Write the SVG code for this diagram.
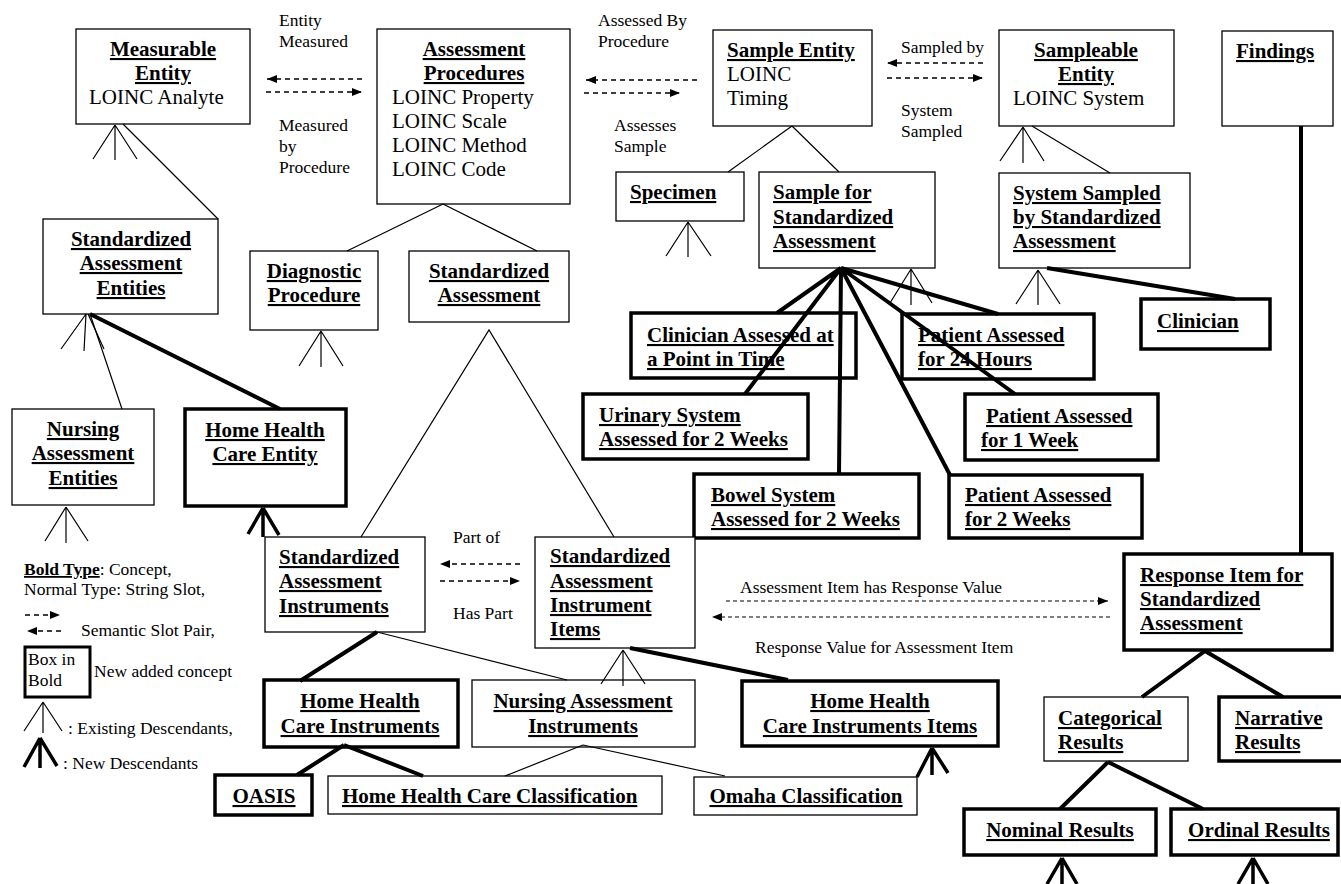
<svg xmlns="http://www.w3.org/2000/svg" width="1341" height="884" viewBox="0 0 1341 884">
<style>
text{font-family:"Liberation Serif","Times New Roman",serif;fill:#000}
.b{font-size:21px;font-weight:bold;text-decoration:underline}
.n{font-size:21px}
.l{font-size:17.5px}
.m{text-anchor:middle}
.box{fill:#fff;stroke:#000;stroke-width:1.3}
.bbox{fill:#fff;stroke:#000;stroke-width:3.5}
.thin{stroke:#000;stroke-width:1.2;fill:none}
.thick{stroke:#000;stroke-width:4;fill:none}
.dash{stroke:#000;stroke-width:1.3;stroke-dasharray:5,4;fill:none}
.fdash{stroke:#000;stroke-width:1.1;stroke-dasharray:4,3;fill:none}
</style>
<defs>
<marker id="ah" markerUnits="userSpaceOnUse" markerWidth="11" markerHeight="9" refX="10" refY="4" orient="auto">
<path d="M0,0 L10,4 L0,8 z" fill="#000"/>
</marker>
</defs>
<rect width="1341" height="884" fill="#fff"/>

<g id="nodes">
<g id="measurable"><rect class="box" x="76" y="29" width="174" height="95"/><text class="b m" x="163" y="56">Measurable</text><text class="b m" x="163" y="80">Entity</text><text class="n" x="89" y="104">LOINC Analyte</text></g>
<g id="assessProc"><rect class="box" x="377" y="29" width="193" height="175"/><text class="b m" x="474" y="56">Assessment</text><text class="b m" x="474" y="80">Procedures</text><text class="n" x="392" y="104">LOINC Property</text><text class="n" x="392" y="128">LOINC Scale</text><text class="n" x="392" y="152">LOINC Method</text><text class="n" x="392" y="176">LOINC Code</text></g>
<g id="sampleEntity"><rect class="box" x="713" y="30" width="159" height="96"/><text class="b" x="727" y="57">Sample Entity</text><text class="n" x="727" y="81">LOINC</text><text class="n" x="727" y="105">Timing</text></g>
<g id="sampleable"><rect class="box" x="999" y="30" width="175" height="96"/><text class="b m" x="1086" y="57">Sampleable</text><text class="b m" x="1086" y="81">Entity</text><text class="n" x="1013" y="105">LOINC System</text></g>
<g id="findings"><rect class="box" x="1222" y="31" width="111" height="95"/><text class="b" x="1236" y="58">Findings</text></g>
<g id="sae"><rect class="box" x="43" y="219" width="175" height="95"/><text class="b m" x="131" y="246">Standardized</text><text class="b m" x="131" y="270">Assessment</text><text class="b m" x="131" y="295">Entities</text></g>
<g id="diagnostic"><rect class="box" x="250" y="251" width="128" height="79"/><text class="b m" x="314" y="278">Diagnostic</text><text class="b m" x="314" y="302">Procedure</text></g>
<g id="stdAssess"><rect class="box" x="409" y="251" width="160" height="71"/><text class="b m" x="489" y="278">Standardized</text><text class="b m" x="489" y="302">Assessment</text></g>
<g id="specimen"><rect class="box" x="616" y="172" width="128" height="49"/><text class="b" x="630" y="199">Specimen</text></g>
<g id="sampleForSA"><rect class="box" x="759" y="172" width="176" height="96"/><text class="b" x="773" y="199">Sample for</text><text class="b" x="773" y="224">Standardized</text><text class="b" x="773" y="248">Assessment</text></g>
<g id="systemSampled"><rect class="box" x="999" y="173" width="191" height="95"/><text class="b" x="1013" y="200">System Sampled</text><text class="b" x="1013" y="224">by Standardized</text><text class="b" x="1013" y="248">Assessment</text></g>
<g id="nursingEnt"><rect class="box" x="12" y="409" width="142" height="96"/><text class="b m" x="83" y="436">Nursing</text><text class="b m" x="83" y="460">Assessment</text><text class="b m" x="83" y="485">Entities</text></g>
<g id="hhcEntity"><rect class="bbox" x="185" y="409" width="161" height="97"/><text class="b m" x="265" y="437">Home Health</text><text class="b m" x="265" y="461">Care Entity</text></g>
<g id="clinAssessed"><rect class="bbox" x="631" y="313" width="225" height="65"/><text class="b" x="647" y="342">Clinician Assessed at</text><text class="b" x="647" y="366">a Point in Time</text></g>
<g id="pat24"><rect class="bbox" x="902" y="314" width="192" height="65"/><text class="b" x="918" y="342">Patient Assessed</text><text class="b" x="918" y="366">for 24 Hours</text></g>
<g id="clinician"><rect class="bbox" x="1141" y="299" width="129" height="50"/><text class="b" x="1157" y="328">Clinician</text></g>
<g id="urinary"><rect class="bbox" x="583" y="394" width="225" height="65"/><text class="b" x="599" y="422">Urinary System</text><text class="b" x="599" y="446">Assessed for 2 Weeks</text></g>
<g id="pat1wk"><rect class="bbox" x="965" y="394" width="193" height="66"/><text class="b" x="986" y="423">Patient Assessed</text><text class="b" x="981" y="447">for 1 Week</text></g>
<g id="bowel"><rect class="bbox" x="694" y="474" width="225" height="64"/><text class="b" x="711" y="502">Bowel System</text><text class="b" x="711" y="526">Assessed for 2 Weeks</text></g>
<g id="pat2wk"><rect class="bbox" x="949" y="475" width="193" height="63"/><text class="b" x="965" y="502">Patient Assessed</text><text class="b" x="965" y="526">for 2 Weeks</text></g>
<g id="sai"><rect class="box" x="265" y="537" width="160" height="95"/><text class="b" x="279" y="564">Standardized</text><text class="b" x="279" y="588">Assessment</text><text class="b" x="279" y="613">Instruments</text></g>
<g id="saii"><rect class="box" x="535" y="537" width="160" height="111"/><text class="b" x="550" y="563">Standardized</text><text class="b" x="550" y="588">Assessment</text><text class="b" x="550" y="612">Instrument</text><text class="b" x="550" y="636">Items</text></g>
<g id="respItem"><rect class="bbox" x="1124" y="554" width="208" height="96"/><text class="b" x="1140" y="582">Response Item for</text><text class="b" x="1140" y="606">Standardized</text><text class="b" x="1140" y="630">Assessment</text></g>
<g id="hhci"><rect class="bbox" x="264" y="680" width="194" height="67"/><text class="b m" x="360" y="708">Home Health</text><text class="b m" x="360" y="733">Care Instruments</text></g>
<g id="nai"><rect class="box" x="472" y="680" width="223" height="67"/><text class="b m" x="583" y="708">Nursing Assessment</text><text class="b m" x="583" y="733">Instruments</text></g>
<g id="hhcii"><rect class="bbox" x="742" y="681" width="256" height="65"/><text class="b m" x="870" y="708">Home Health</text><text class="b m" x="870" y="733">Care Instruments Items</text></g>
<g id="categorical"><rect class="box" x="1044" y="697" width="144" height="64"/><text class="b" x="1058" y="725">Categorical</text><text class="b" x="1058" y="749">Results</text></g>
<g id="narrative"><rect class="bbox" x="1219" y="697" width="130" height="64"/><text class="b" x="1235" y="725">Narrative</text><text class="b" x="1235" y="749">Results</text></g>
<g id="oasis"><rect class="bbox" x="215" y="775" width="97" height="40"/><text class="b m" x="264" y="803">OASIS</text></g>
<g id="hhcc"><rect class="box" x="328" y="776" width="334" height="38"/><text class="b" x="342" y="803">Home Health Care Classification</text></g>
<g id="omaha"><rect class="box" x="694" y="777" width="223" height="38"/><text class="b m" x="806" y="803">Omaha Classification</text></g>
<g id="nominal"><rect class="bbox" x="964" y="809" width="192" height="46"/><text class="b m" x="1060" y="837">Nominal Results</text></g>
<g id="ordinal"><rect class="bbox" x="1171" y="809" width="167" height="46"/><text class="b m" x="1259" y="837">Ordinal Results</text></g>
</g>

<g id="connectors">
<path class="thin" d="M123,124 L218,219 M90,314 L122,409 M443,204 L347,251 M443,204 L537,251 M792,126 L728,172 M792,126 L839,172 M1032,126 L1110,173 M361,537 L489,330 L614,537 M377,632 L567,680 M583,745 L505,776 M583,745 L725,776"/>
<path class="thick" d="M90,314 L280,409 M377,632 L300,681 M344,745 L297,775 M344,745 L423,776 M630,648 L788,680 M841,268 L777,313 M841,268 L745,394 M841,268 L839,474 M841,268 L950,475 M841,268 L1015,394 M841,268 L998,314 M1047,268 L1235,299 M1301,126 L1301,554 M1205,651 L1142,697 M1205,651 L1283,697 M1108,762 L1060,809 M1108,762 L1203,809"/>
<g id="descendants">
<path class="thin" d="M115,125 L93,159 M115,125 L115,160 M115,125 L137,159"/>
<path class="thin" d="M86,314 L61,349 M86,314 L84,351 M88,314 L104,349"/>
<path class="thin" d="M66,507 L45,541 M66,507 L66,543 M66,507 L88,541"/>
<path class="thin" d="M321,331 L299,366 M321,331 L321,367 M321,331 L343,366"/>
<path class="thin" d="M688,222 L666,256 M688,222 L688,257 M688,222 L711,256"/>
<path class="thin" d="M911,269 L890,303 M911,269 L911,305 M911,269 L932,303"/>
<path class="thin" d="M1023,127 L1000,161 M1023,127 L1023,163 M1023,127 L1044,161"/>
<path class="thin" d="M1038,270 L1016,304 M1038,270 L1038,305 M1038,270 L1060,304"/>
<path class="thin" d="M623,650 L601,684 M623,650 L623,686 M623,650 L645,684"/>
<path class="thick" style="stroke-width:3.5" d="M263,508 L248,534 M263,508 L263,537 M263,508 L279,535"/>
<path class="thick" style="stroke-width:3.5" d="M932,748 L917,777 M932,748 L932,775 M932,748 L948,773"/>
<path class="thick" style="stroke-width:3.5" d="M1062,858 L1047,884 M1062,858 L1062,884 M1062,858 L1077,884"/>
<path class="thick" style="stroke-width:3.5" d="M1253,858 L1238,884 M1253,858 L1253,884 M1253,858 L1268,884"/>
</g>
<g id="slotArrows">
<line class="dash" x1="362" y1="79" x2="267" y2="79" marker-end="url(#ah)"/>
<line class="dash" x1="266" y1="92" x2="362" y2="92" marker-end="url(#ah)"/>
<line class="dash" x1="697" y1="80" x2="586" y2="80" marker-end="url(#ah)"/>
<line class="dash" x1="584" y1="93" x2="680" y2="93" marker-end="url(#ah)"/>
<line class="dash" x1="983" y1="63" x2="887" y2="63" marker-end="url(#ah)"/>
<line class="dash" x1="887" y1="78" x2="983" y2="78" marker-end="url(#ah)"/>
<line class="dash" x1="520" y1="564" x2="440" y2="564" marker-end="url(#ah)"/>
<line class="dash" x1="440" y1="581" x2="520" y2="581" marker-end="url(#ah)"/>
<line class="fdash" x1="726" y1="601" x2="1108" y2="601" marker-end="url(#ah)"/>
<line class="fdash" x1="1110" y1="617" x2="712" y2="617" marker-end="url(#ah)"/>
</g>
</g>

<g id="slotLabels">
<text class="l" x="279" y="26">Entity</text><text class="l" x="279" y="47">Measured</text>
<text class="l" x="279" y="131">Measured</text><text class="l" x="279" y="152">by</text><text class="l" x="279" y="173">Procedure</text>
<text class="l" x="598" y="26">Assessed By</text><text class="l" x="598" y="47">Procedure</text>
<text class="l" x="614" y="131">Assesses</text><text class="l" x="614" y="152">Sample</text>
<text class="l" x="901" y="53">Sampled by</text>
<text class="l" x="901" y="116">System</text><text class="l" x="901" y="137">Sampled</text>
<text class="l" x="453" y="543">Part of</text>
<text class="l" x="453" y="619">Has Part</text>
<text class="l" x="740" y="593">Assessment Item has Response Value</text>
<text class="l" x="755" y="653">Response Value for Assessment Item</text>
</g>

<g id="legend">
<text class="l" x="24" y="575"><tspan font-weight="bold" text-decoration="underline">Bold Type</tspan>: Concept,</text>
<text class="l" x="24" y="595">Normal Type: String Slot,</text>
<line class="dash" x1="25" y1="615" x2="60" y2="615" marker-end="url(#ah)"/>
<line class="dash" x1="61" y1="631" x2="27" y2="631" marker-end="url(#ah)"/>
<text class="l" x="81" y="636">Semantic Slot Pair,</text>
<rect x="25" y="647" width="65" height="50" fill="#fff" stroke="#000" stroke-width="3"/>
<text class="l" x="28" y="665">Box in</text><text class="l" x="28" y="686">Bold</text>
<text class="l" x="94" y="677">New added concept</text>
<path class="thin" d="M43,702 L24,731 M43,702 L43,733 M43,702 L62,731"/>
<text class="l" x="68" y="734">: Existing Descendants,</text>
<path class="thick" style="stroke-width:3.5" d="M40,738 L24,767 M40,738 L40,768 M40,738 L57,766"/>
<text class="l" x="63" y="769">: New Descendants</text>
</g>
</svg>
